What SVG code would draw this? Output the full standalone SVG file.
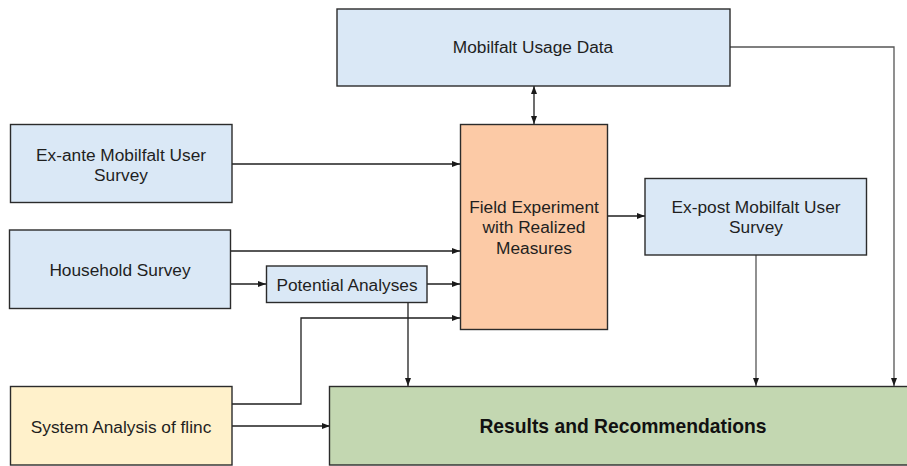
<svg xmlns="http://www.w3.org/2000/svg" width="907" height="466" viewBox="0 0 907 466">
<defs>
<marker id="ah" viewBox="0 0 8 8" refX="8" refY="4" markerWidth="8" markerHeight="8" markerUnits="userSpaceOnUse" orient="auto-start-reverse">
<path d="M0,1 L8,4 L0,7 Z" fill="#1a1a1a"/>
</marker>
</defs>
<style>
.box{stroke:#2b2b2b;stroke-width:1.4}
.blue{fill:#dae8f6}
.orange{fill:#fccaa6}
.yellow{fill:#fff1cb}
.green{fill:#c3d7b1}
text{font-family:"Liberation Sans",Arial,sans-serif;font-size:17.3px;fill:#1f1f1f;text-anchor:middle}
.bold{font-weight:bold;font-size:19.3px;fill:#111}
.c{fill:none;stroke:#1f1f1f;stroke-width:1.3}
.g{fill:none;stroke:#555;stroke-width:1.3}
</style>
<g id="connectors">
<line class="c" x1="534" y1="86" x2="534" y2="124" marker-start="url(#ah)" marker-end="url(#ah)"/>
<polyline class="g" points="730,47 894,47 894,386" marker-end="url(#ah)"/>
<line class="c" x1="232" y1="164" x2="460" y2="164" marker-end="url(#ah)"/>
<line class="c" x1="230" y1="251" x2="460" y2="251" marker-end="url(#ah)"/>
<line class="c" x1="230" y1="284" x2="266" y2="284" marker-end="url(#ah)"/>
<line class="c" x1="427" y1="284" x2="460" y2="284" marker-end="url(#ah)"/>
<line class="c" x1="408" y1="302" x2="408" y2="386" marker-end="url(#ah)"/>
<polyline class="c" points="232,404 301,404 301,318 460,318" marker-end="url(#ah)"/>
<line class="c" x1="232" y1="426" x2="330" y2="426" marker-end="url(#ah)"/>
<line class="c" x1="607" y1="216" x2="645" y2="216" marker-end="url(#ah)"/>
<line class="g" x1="756" y1="255" x2="756" y2="386" marker-end="url(#ah)"/>
</g>
<g id="usage">
<rect class="box blue" x="337" y="9" width="393" height="77"/>
<text x="533" y="53">Mobilfalt Usage Data</text>
</g>
<g id="field">
<rect class="box orange" x="460.5" y="124.5" width="147" height="205"/>
<text x="534" y="213">Field Experiment</text>
<text x="534" y="233">with Realized</text>
<text x="534" y="254">Measures</text>
</g>
<g id="exante">
<rect class="box blue" x="10.5" y="124.5" width="221.5" height="78"/>
<text x="121" y="161">Ex-ante Mobilfalt User</text>
<text x="121" y="181">Survey</text>
</g>
<g id="household">
<rect class="box blue" x="9.5" y="230" width="221" height="78.5"/>
<text x="120" y="276">Household Survey</text>
</g>
<g id="potential">
<rect class="box blue" x="266.5" y="266" width="160.5" height="36.5"/>
<text x="347" y="290.5">Potential Analyses</text>
</g>
<g id="expost">
<rect class="box blue" x="645" y="178.5" width="221.5" height="76.5"/>
<text x="756" y="213">Ex-post Mobilfalt User</text>
<text x="756" y="233">Survey</text>
</g>
<g id="system">
<rect class="box yellow" x="10.5" y="386.5" width="221.5" height="78.5"/>
<text x="121" y="432.5">System Analysis of flinc</text>
</g>
<g id="results">
<rect class="box green" x="329.5" y="386.5" width="590" height="78.5"/>
<text class="bold" x="623" y="432.5">Results and Recommendations</text>
</g>
</svg>
